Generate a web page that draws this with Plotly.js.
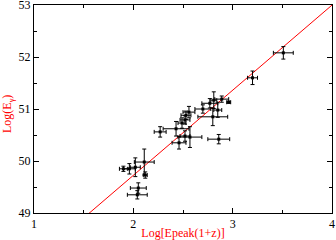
<!DOCTYPE html>
<html>
<head>
<meta charset="utf-8">
<script src="https://cdn.plot.ly/plotly-3.0.1.min.js"></script>
<style>html,body{margin:0;padding:0;background:#fff;}#chart{width:336px;height:240px;}</style>
</head>
<body>
<div id="chart"></div>
<script>
var logEpeak = [3.51, 3.20, 2.89, 2.96, 2.81, 2.77, 2.70, 2.85, 2.80, 2.56, 2.53, 2.52, 2.49, 2.27, 2.43, 2.52, 2.46, 2.57, 2.86, 1.90, 1.96, 2.02, 2.11, 2.12, 2.05, 2.04];
var logEgamma = [52.08, 51.60, 51.19, 51.13, 51.17, 51.11, 51.00, 50.98, 50.85, 50.94, 50.88, 50.79, 50.73, 50.56, 50.62, 50.48, 50.35, 50.46, 50.42, 49.85, 49.85, 49.88, 49.98, 49.73, 49.48, 49.35];
var errEpeak = [0.10, 0.05, 0.07, 0.02, 0.03, 0.08, 0.08, 0.04, 0.15, 0.06, 0.05, 0.05, 0.04, 0.06, 0.13, 0.05, 0.07, 0.12, 0.11, 0.04, 0.06, 0.05, 0.10, 0.02, 0.08, 0.10];
var errEgamma = [0.12, 0.13, 0.06, 0.02, 0.16, 0.09, 0.08, 0.14, 0.17, 0.11, 0.08, 0.08, 0.10, 0.10, 0.14, 0.10, 0.12, 0.20, 0.09, 0.05, 0.10, 0.18, 0.25, 0.06, 0.10, 0.08];
var fitRangeX = [1.5, 4.0];
var fitSlope = 1.637;
var fitIntercept = 46.45;
var xTitle = 'Log[Epeak(1+z)]';
var yTitle = 'Log(E<sub>γ</sub>)';

var fitY = fitRangeX.map(function(x){ return fitSlope * x + fitIntercept; });

var data = [
  {
    x: fitRangeX, y: fitY, mode: 'lines', type: 'scatter',
    line: {color: '#ff0000', width: 1}, hoverinfo: 'skip'
  },
  {
    x: logEpeak, y: logEgamma, mode: 'markers', type: 'scatter',
    marker: {symbol: 'square', size: 3, color: '#000'},
    error_x: {type: 'data', array: errEpeak, visible: true, color: '#000', thickness: 1, width: 2},
    error_y: {type: 'data', array: errEgamma, visible: true, color: '#000', thickness: 1, width: 2}
  }
];

var axisCommon = {
  showline: true, linecolor: '#000', linewidth: 1, mirror: 'ticks',
  ticks: 'inside', ticklen: 5, tickwidth: 1, tickcolor: '#000',
  showgrid: false, zeroline: false, ticklabeloverflow: 'allow',
  tickfont: {family: 'Liberation Serif', size: 12, color: '#000'},
  minor: {ticks: 'inside', ticklen: 3, tickcolor: '#000', dtick: 0.5, showgrid: false}
};

var layout = {
  width: 336, height: 240,
  margin: {l: 34, r: 4, t: 5, b: 27},
  paper_bgcolor: '#fff', plot_bgcolor: '#fff',
  showlegend: false,
  xaxis: Object.assign({}, axisCommon, {
    range: [1, 4], dtick: 1, tick0: 1,
    title: {text: xTitle, font: {family: 'Liberation Serif', size: 12, color: '#ff0000'}, standoff: 2}
  }),
  yaxis: Object.assign({}, axisCommon, {
    range: [49, 53], dtick: 1, tick0: 49
  }),
  annotations: [{
    text: yTitle, xref: 'paper', yref: 'paper', x: 0, y: 0.5,
    xanchor: 'center', yanchor: 'middle', xshift: -26, yshift: -5,
    textangle: -90, showarrow: false,
    font: {family: 'Liberation Serif', size: 12, color: '#ff0000'}
  }]
};

Plotly.newPlot('chart', data, layout, {displayModeBar: false, staticPlot: true});
</script>
</body>
</html>
